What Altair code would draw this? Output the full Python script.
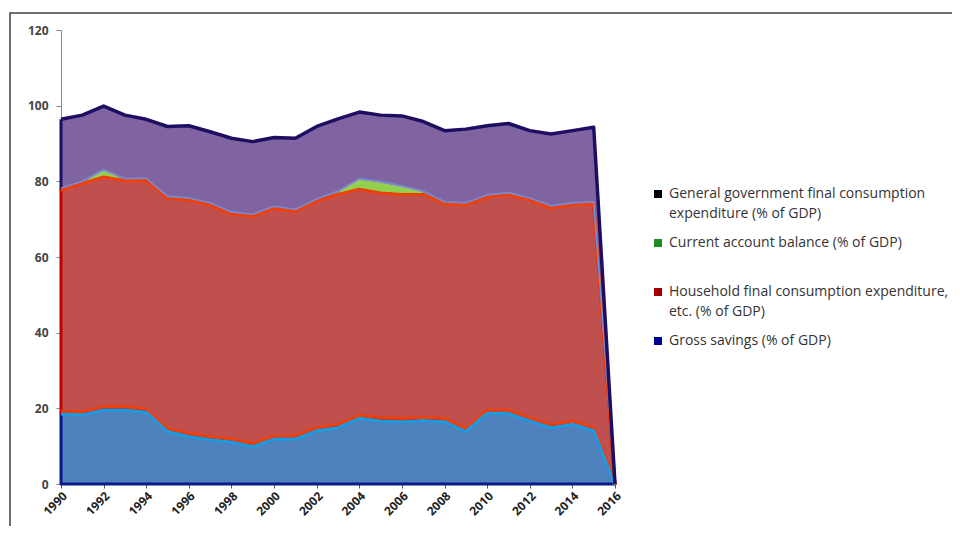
import altair as alt
import pandas as pd

years = list(range(1990, 2017))
gross_savings = [18.9, 18.7, 20.0, 20.0, 19.4, 14.3, 13.0, 12.1, 11.5, 10.3, 12.3, 12.3, 14.5,
                 15.3, 17.8, 17.1, 16.9, 17.2, 16.9, 14.3, 19.1, 19.1, 17.1, 15.3, 16.2, 14.5, 0.0]
household = [59.0, 61.0, 61.4, 60.4, 61.1, 61.4, 62.3, 61.9, 60.1, 60.7, 60.8, 60.0, 60.5,
             61.5, 60.4, 60.1, 59.9, 59.6, 57.4, 59.7, 57.0, 57.6, 58.2, 57.9, 57.8, 59.8, 0.0]
current_account = [0.0, 0.0, 1.4, 0.0, 0.0, 0.0, 0.0, 0.0, 0.0, 0.0, 0.0, 0.0, 0.0,
                    0.3, 2.2, 2.4, 1.7, 0.3, 0.0, 0.0, 0.0, 0.0, 0.0, 0.0, 0.0, 0.0, 0.0]
government = [18.5, 17.8, 17.1, 17.1, 15.9, 18.8, 19.4, 19.1, 19.8, 19.5, 18.5, 19.1, 19.5,
              19.4, 17.9, 17.9, 18.8, 18.7, 19.1, 19.8, 18.6, 18.6, 18.1, 19.3, 19.4, 20.0, 0.0]

series_names = [
    "General government final consumption expenditure (% of GDP)",
    "Current account balance (% of GDP)",
    "Household final consumption expenditure, etc. (% of GDP)",
    "Gross savings (% of GDP)",
]
legend_colors = ["#000000", "#1E8C1E", "#A00000", "#000090"]

df = pd.DataFrame({"year": years, "s": gross_savings, "h": household,
                   "c": current_account, "g": government})
df["b1"] = df["s"]
df["b2"] = df["b1"] + df["h"]
df["b3"] = df["b2"] + df["c"]
df["b4"] = df["b3"] + df["g"]
df["zero"] = 0.0

long_rows = []
for i, y in enumerate(years):
    for name, vals in zip(series_names, [government, current_account, household, gross_savings]):
        long_rows.append({"year": y, "series": name, "value": vals[i]})
ldf = pd.DataFrame(long_rows)

FONT = "Open Sans"
xs = alt.X("year:Q", scale=alt.Scale(domain=[1990, 2016], nice=False, zero=False),
           axis=alt.Axis(values=years, format="d", title=None, grid=False,
                         labelExpr="datum.value % 2 == 0 ? datum.label : ''",
                         labelAngle=-45, labelAlign="right", labelBaseline="top",
                         labelFont=FONT, labelFontSize=12, labelFontWeight="bold",
                         labelColor="#222", tickSize=4, tickColor="#555",
                         domainColor="#888", labelPadding=2, labelOverlap=False))
yscale = alt.Scale(domain=[0, 120], nice=False)

base = alt.Chart(df)

def area(lo, hi, fill, stroke=None, sw=0):
    kw = dict(fill=fill, opacity=1)
    if stroke:
        kw.update(stroke=stroke, strokeWidth=sw, strokeJoin="round")
    return base.mark_area(**kw).encode(
        x=xs,
        y=alt.Y(f"{hi}:Q", scale=yscale,
                axis=alt.Axis(values=[0, 20, 40, 60, 80, 100, 120], title=None,
                              labelFont=FONT, labelFontSize=12, labelFontWeight="bold",
                              labelColor="#444", tickSize=5, tickColor="#888",
                              domainColor="#888", labelPadding=8, grid=False)),
        y2=f"{lo}:Q")

def line(col, color, sw, off=0):
    return base.mark_line(color=color, strokeWidth=sw, yOffset=off, strokeJoin="round").encode(
        x=xs, y=alt.Y(f"{col}:Q", scale=yscale))

blue = area("zero", "b1", "#4F81BD", "#0A1A8A", 3)
red = area("b1", "b2", "#C0504D", "#C00000", 3)
green = area("b2", "b3", "#92D050")
purple = area("b3", "b4", "#8064A2")

purple_left = base.mark_rule(color="#1E0E62", strokeWidth=3).encode(
    x=xs, y=alt.Y("b3:Q", scale=yscale), y2="b4:Q"
).transform_filter(alt.datum.year == years[0])

lines = [
    line("b1", "#F0400A", 3, -1.5),
    line("b1", "#1A9BE2", 3, 1.6),
    line("b2", "#F0400A", 3, 1.0),
    line("b3", "#7A8CD0", 1.6, -1.2),
    line("b4", "#1E0E62", 3.5, 0),
]

label_expr = ("datum.label == '" + series_names[0] + "' ? ['General government final consumption', 'expenditure (% of GDP)'] : "
              "datum.label == '" + series_names[2] + "' ? ['Household final consumption expenditure,', 'etc. (% of GDP)'] : "
              "[datum.label, ' ']")

legend_layer = alt.Chart(ldf).mark_square(opacity=0, size=1).encode(
    x=alt.X("year:Q", scale=alt.Scale(domain=[1990, 2016], nice=False, zero=False)),
    y=alt.Y("value:Q", scale=yscale),
    color=alt.Color("series:N",
                    scale=alt.Scale(domain=series_names, range=legend_colors),
                    legend=alt.Legend(title=None, orient="none", legendX=590, legendY=157,
                                      symbolType="square", symbolSize=64, symbolOpacity=1,
                                      symbolStrokeWidth=0, labelFont=FONT, labelFontSize=14,
                                      labelColor="#333", labelLimit=400, labelExpr=label_expr,
                                      rowPadding=15, labelOffset=4)))

frame = alt.Chart(alt.Data(values=[{}])).mark_rect(
    fillOpacity=0, stroke="#404040", strokeWidth=1.5).encode(
    x=alt.value(-51), x2=alt.value(2000), y=alt.value(-17), y2=alt.value(1000))

chart = alt.layer(frame, blue, red, green, purple, purple_left, *lines, legend_layer).properties(
    width=554, height=454,
    autosize=alt.AutoSizeParams(type="none"),
    padding={"left": 53, "top": 22, "right": 337, "bottom": 42},
).configure(style={"guide-label": {"lineHeight": 20}}).configure_view(strokeWidth=0)

chart.save("out.html", embed_options={"renderer": "svg", "actions": False})
